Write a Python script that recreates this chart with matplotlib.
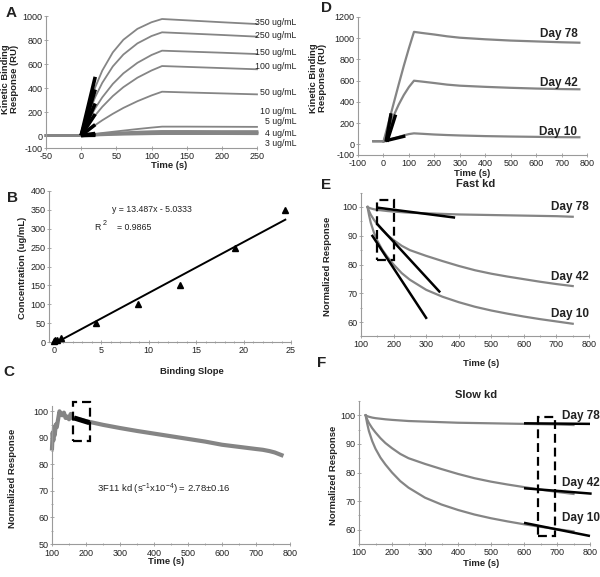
import matplotlib
matplotlib.use('Agg')
import matplotlib.pyplot as plt
from matplotlib.ticker import MultipleLocator, FixedLocator
from matplotlib.patches import Rectangle

plt.rcParams['font.family'] = ['Liberation Sans', 'DejaVu Sans']
plt.rcParams['axes.unicode_minus'] = False
plt.rcParams['mathtext.fontset'] = 'custom'
plt.rcParams['mathtext.rm'] = 'Liberation Sans'
plt.rcParams['mathtext.it'] = 'Liberation Sans:italic'
plt.rcParams['mathtext.bf'] = 'Liberation Sans:bold'

W, H = 600, 577                 # figure size in pixels
GRAY = '#858585'                # sensorgram curves
AXIS = '#9a9a9a'                # spines and ticks
TXT = '#222222'

# ---------------- panel A : binding curves per concentration ----------------
a_time = [-50, 0, 10, 20, 30, 45, 60, 80, 100, 115, 150, 200, 250]
a_350 = [5, 5, 228, 406, 545, 697, 802, 893, 948, 975, 964, 948, 933]
a_250 = [5, 5, 179, 325, 443, 580, 679, 772, 833, 864, 855, 842, 828]
a_150 = [5, 5, 125, 232, 322, 434, 522, 610, 675, 711, 704, 694, 683]
a_100 = [5, 5, 92, 172, 243, 333, 407, 486, 546, 583, 576, 566, 556]
a_50 = [5, 5, 47, 91, 131, 185, 234, 290, 338, 369, 363, 355, 347]
a_10 = [5, 5, 10, 18, 25, 35, 45, 58, 70, 78, 78, 77, 76]
a_5 = [5, 5, 8, 12, 16, 22, 27, 32, 36, 38, 38, 37, 37]
a_4 = [5, 5, 7, 10, 13, 17, 20, 24, 27, 28, 28, 28, 27]
a_3 = [5, 5, 6, 8, 10, 13, 15, 17, 19, 20, 20, 20, 19]
a_labels = ['350 ug/mL', '250 ug/mL', '150 ug/mL', '100 ug/mL', '50 ug/mL',
            '10 ug/mL', '5 ug/mL', '4 ug/mL', '3 ug/mL']
a_label_y = [944, 841, 693, 576, 359, 206, 117, 20, -63]
a_fit_len = 20                  # seconds covered by the initial slope lines

# ---------------- panel B : concentration vs binding slope ----------------
b_slope = [24.4, 19.1, 13.3, 8.9, 4.5, 0.8, 0.35, 0.15, 0.05]
b_conc = [350, 250, 150, 100, 50, 10, 5, 4, 3]
b_fit_m = 13.487
b_fit_c = -5.0333
b_fit_x = [0.37, 24.4]

# ---------------- panel C : normalized dissociation, 3F11 ----------------
c_time = [100, 102, 104, 106, 108, 111, 114, 118, 122, 126, 130, 135, 140, 145,
          150, 155, 160, 170, 185, 200, 250, 300, 350, 400, 450, 500, 550, 600,
          650, 700, 720, 740, 755, 765, 775]
c_resp = [86, 92, 89, 94, 91, 95, 94, 97, 100, 99, 98.5, 99.5, 97.5, 98, 97, 99,
          97.5, 97.3, 96.8, 96.3, 94.9, 93.7, 92.6, 91.6, 90.6, 89.6, 88.6, 87.4,
          86.6, 85.8, 85.5, 85.0, 84.5, 84.0, 83.5]
c_fit_t = [165, 210]
c_fit_y = [97.5, 95.7]
c_box = [162, 212, 88.7, 103.4]     # t0, t1, y0, y1

# ---------------- panel D : binding response per bleed day ----------------
d_time = [-40, -5, 0, 10, 20, 40, 60, 80, 100, 120, 150, 200, 250, 300, 400,
          500, 600, 700, 770]
d_day78 = [30, 30, 25, 115, 205, 385, 565, 740, 905, 1060, 1050, 1035, 1018,
           1005, 990, 978, 970, 962, 958]
d_day42 = [30, 30, 25, 90, 150, 270, 375, 465, 540, 600, 592, 578, 563, 553,
           542, 533, 526, 521, 519]
d_day10 = [30, 30, 25, 32, 40, 55, 70, 85, 97, 104, 100, 93, 88, 84, 78, 74,
           71, 68, 67]
d_fit_t0 = [10, 14, 10]
d_fit_y0 = [25, 25, 35]
d_fit_t1 = [30, 48, 86]
d_fit_y1 = [293, 280, 79]
d_label_y = [1040, 581, 117]

# ---------------- panels E/F : normalized dissociation per day ----------------
days = ['Day 78', 'Day 42', 'Day 10']
kd_time = [120, 125, 130, 140, 150, 165, 180, 200, 225, 250, 300, 350, 400,
           450, 500, 550, 600, 650, 700, 750]
kd_day78 = [100, 99.7, 99.5, 99.2, 99.0, 98.8, 98.6, 98.4, 98.2, 98.0, 97.8,
            97.6, 97.4, 97.3, 97.2, 97.1, 97.0, 96.9, 96.8, 96.6]
kd_day42 = [100, 98.5, 97.3, 95.5, 94.0, 92.0, 90.3, 88.5, 86.5, 85.0, 83.0,
            81.2, 79.5, 78.0, 76.8, 75.8, 74.9, 74.0, 73.2, 72.5]
kd_day10 = [100, 97.0, 94.5, 91.0, 88.3, 85.2, 82.8, 80.0, 77.0, 74.7, 71.2,
            68.8, 66.9, 65.3, 64.0, 62.9, 61.9, 61.0, 60.2, 59.4]

e_fit_t0 = [148, 148, 133]
e_fit_y0 = [99.8, 94.3, 90.3]
e_fit_t1 = [389, 343, 302]
e_fit_y1 = [96.3, 70.3, 61.1]
e_box = [148, 201, 81.6, 102.4]
e_label_y = [100.1, 75.8, 62.7]

f_fit_t0 = [600, 600, 600]
f_fit_y0 = [97.2, 74.5, 62.4]
f_fit_t1 = [800, 805, 800]
f_fit_y1 = [97.0, 72.6, 57.8]
f_box = [643, 693, 57.8, 99.3]
f_label_y = [99.8, 76.2, 64.1]


def px_axes(fig, left, top, right, bottom):
    '''add an axes given its edges in pixels (origin top left)'''
    ax = fig.add_axes([left / W, 1 - bottom / H, (right - left) / W, (bottom - top) / H])
    for side in ('top', 'right'):
        ax.spines[side].set_visible(False)
    for side in ('left', 'bottom'):
        ax.spines[side].set_color(AXIS)
        ax.spines[side].set_linewidth(0.8)
    ax.tick_params(which='both', direction='inout', color=AXIS, width=0.6,
                   labelsize=6.5, labelcolor=TXT, pad=1.0)
    ax.tick_params(axis='x', which='both', pad=1.4)
    ax.tick_params(which='major', length=2.6)
    ax.tick_params(which='minor', length=1.8)
    ax.set_facecolor('none')
    return ax


def px_text(fig, x, y, s, **kw):
    '''figure text placed in pixel coordinates'''
    kw.setdefault('ha', 'center')
    kw.setdefault('va', 'center')
    kw.setdefault('color', TXT)
    fig.text(x / W, 1 - y / H, s, **kw)


def dashed_box(ax, box):
    t0, t1, y0, y1 = box
    ax.add_patch(Rectangle((t0, y0), t1 - t0, y1 - y0, fill=False, ec='black',
                           lw=1.6, ls=(0, (4, 2.2)), clip_on=False, zorder=5))


def main():
    fig = plt.figure(figsize=(W / 100, H / 100), dpi=100)
    bold = dict(fontweight='bold', fontsize=6.8)

    # ---- A
    ax = px_axes(fig, 46, 16, 257, 148)
    a_series = [a_350, a_250, a_150, a_100, a_50, a_10, a_5, a_4, a_3]
    for i, resp in enumerate(a_series):
        ax.plot(a_time, resp, color=GRAY, lw=1.3 if i < 6 else 2.0, clip_on=False)
        ax.text(306, a_label_y[i], a_labels[i], ha='right', va='center',
                fontsize=6.3, color=TXT, clip_on=False)
    for s in b_slope:
        ax.plot([0, a_fit_len], [a_3[1], a_3[1] + s * a_fit_len], color='black',
                lw=2.6, solid_capstyle='butt', zorder=4)
    ax.set_xlim(-50, 250)
    ax.set_ylim(-100, 1000)
    ax.xaxis.set_major_locator(MultipleLocator(50))
    ax.yaxis.set_major_locator(FixedLocator([-100, 0, 200, 400, 600, 800, 1000]))
    px_text(fig, 11, 13, 'A', fontsize=11, fontweight='bold')
    px_text(fig, 10, 79, 'Kinetic Binding\nResponse (RU)', rotation=90, linespacing=1.05, **bold)
    px_text(fig, 169, 166, 'Time (s)', **bold)

    # ---- B
    ax = px_axes(fig, 49, 191, 291, 342)
    ax.plot(b_slope, b_conc, '^', color='black', ms=4.5, clip_on=False, zorder=4)
    ax.plot(b_fit_x, [b_fit_m * x + b_fit_c for x in b_fit_x], color='black', lw=1.4)
    ax.set_xlim(-0.5, 25)
    ax.set_ylim(0, 400)
    ax.xaxis.set_major_locator(MultipleLocator(5))
    ax.xaxis.set_minor_locator(MultipleLocator(1))
    ax.yaxis.set_major_locator(MultipleLocator(50))
    px_text(fig, 112, 210, 'y = 13.487x - 5.0333', ha='left', fontsize=6.3)
    px_text(fig, 94, 228, 'R', ha='left', fontsize=6.3)
    px_text(fig, 102.5, 223, '2', ha='left', fontsize=5.2)
    px_text(fig, 117, 228, '= 0.9865', ha='left', fontsize=6.3)
    px_text(fig, 12, 198, 'B', fontsize=11, fontweight='bold')
    px_text(fig, 23, 268, 'Concentration (ug/mL)', rotation=90, **bold)
    px_text(fig, 192, 372, 'Binding Slope', **bold)

    # ---- C
    ax = px_axes(fig, 52, 406, 290, 544)
    ax.plot(c_time, c_resp, color=GRAY, lw=3.0, solid_joinstyle='round', clip_on=False)
    ax.plot(c_fit_t, c_fit_y, color='black', lw=3.6, solid_capstyle='butt', zorder=4)
    dashed_box(ax, c_box)
    ax.set_xlim(100, 800)
    ax.set_ylim(50, 102)
    ax.xaxis.set_major_locator(MultipleLocator(100))
    ax.xaxis.set_minor_locator(MultipleLocator(50))
    ax.yaxis.set_major_locator(MultipleLocator(10))
    ax.yaxis.set_minor_locator(MultipleLocator(5))
    ax.tick_params(axis='x', which='both', pad=2.2)
    ax.text(429, 70.5, r'3F11 kd (s$^{-1}$x10$^{-4}$) = 2.78$\pm$0.16', ha='center',
            va='center', fontsize=6.8, color=TXT)
    px_text(fig, 9, 372, 'C', fontsize=11, fontweight='bold')
    px_text(fig, 13, 478, 'Normalized Response', rotation=90, **bold)
    px_text(fig, 166, 562, 'Time (s)', **bold)

    # ---- D
    ax = px_axes(fig, 358, 17, 587, 155)
    for resp in (d_day78, d_day42, d_day10):
        ax.plot(d_time, resp, color=GRAY, lw=1.6)
    for i in range(3):
        ax.plot([d_fit_t0[i], d_fit_t1[i]], [d_fit_y0[i], d_fit_y1[i]], color='black',
                lw=2.4, solid_capstyle='butt', zorder=4)
        ax.text(762, d_label_y[i], days[i], ha='right', va='center', fontsize=8.5,
                fontweight='bold', color=TXT)
    ax.set_xlim(-100, 800)
    ax.set_ylim(-100, 1200)
    ax.xaxis.set_major_locator(MultipleLocator(100))
    ax.yaxis.set_major_locator(FixedLocator([-100, 0, 200, 400, 600, 800, 1000, 1200]))
    px_text(fig, 326, 8, 'D', fontsize=11, fontweight='bold')
    px_text(fig, 318, 78, 'Kinetic Binding\nResponse (RU)', rotation=90, linespacing=1.05, **bold)
    px_text(fig, 472, 174, 'Time (s)', **bold)

    # ---- E and F share the normalized curves
    kd_series = [kd_day78, kd_day42, kd_day10]
    panels = [
        ('E', 'Fast kd', (361, 192.6, 589, 336.4), e_fit_t0, e_fit_y0, e_fit_t1, e_fit_y1,
         e_box, e_label_y, 799, 'right', (326, 185), (476, 184), (328, 266), (481, 363)),
        ('F', 'Slow kd', (359, 401, 590, 544), f_fit_t0, f_fit_y0, f_fit_t1, f_fit_y1,
         f_box, f_label_y, 714, 'left', (322, 363), (476, 395), (333, 475), (481, 564)),
    ]
    for (letter, title, edges, t0, y0, t1, y1, box, lab_y, lab_x, lab_ha,
         p_letter, p_title, p_ylab, p_xlab) in panels:
        ax = px_axes(fig, *edges)
        for resp in kd_series:
            ax.plot(kd_time, resp, color=GRAY, lw=1.6)
        for i in range(3):
            ax.plot([t0[i], t1[i]], [y0[i], y1[i]], color='black', lw=1.8,
                    solid_capstyle='butt', zorder=4, clip_on=False)
            ax.text(lab_x, lab_y[i], days[i], ha=lab_ha, va='center', fontsize=8.5,
                    fontweight='bold', color=TXT, clip_on=False)
        dashed_box(ax, box)
        ax.set_xlim(100, 800)
        ax.set_ylim(55, 105)
        ax.xaxis.set_major_locator(MultipleLocator(100))
        ax.xaxis.set_minor_locator(MultipleLocator(50))
        ax.yaxis.set_major_locator(MultipleLocator(10))
        ax.yaxis.set_minor_locator(MultipleLocator(5))
        px_text(fig, *p_letter, letter, fontsize=11, fontweight='bold')
        px_text(fig, *p_title, title, fontsize=8, fontweight='bold')
        px_text(fig, *p_ylab, 'Normalized Response', rotation=90, **bold)
        px_text(fig, *p_xlab, 'Time (s)', **bold)

    fig.savefig('out.png', dpi=100, facecolor='white')


if __name__ == '__main__':
    main()
